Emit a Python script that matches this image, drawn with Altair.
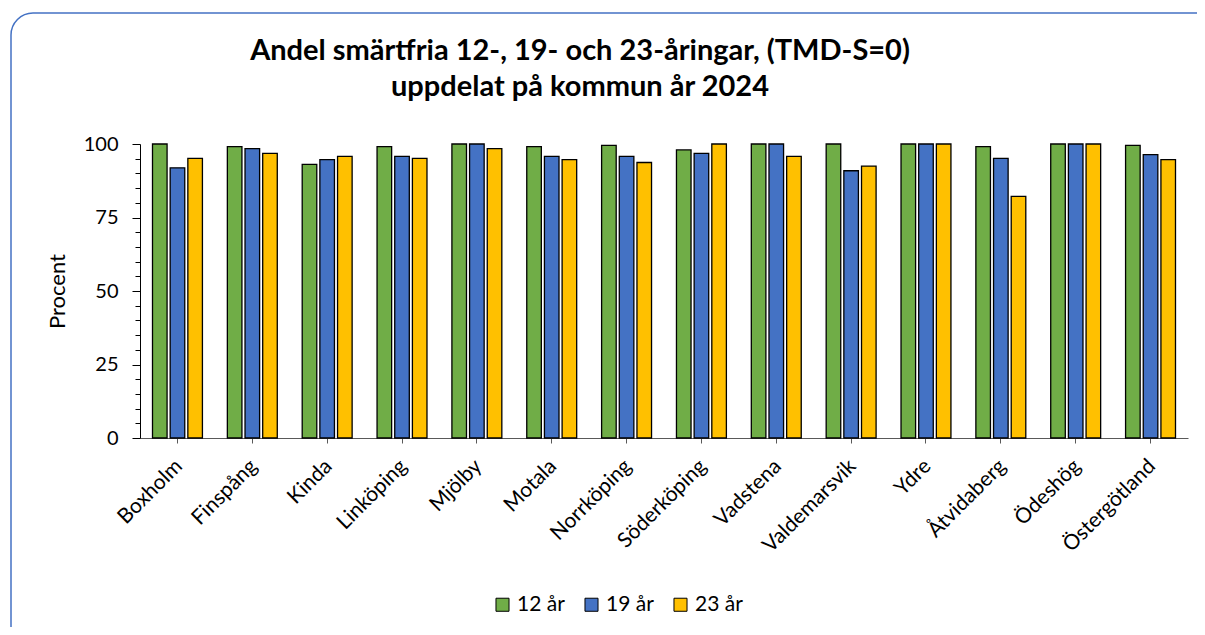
import altair as alt
import pandas as pd

kommuner = ["Boxholm", "Finspång", "Kinda", "Linköping", "Mjölby", "Motala",
            "Norrköping", "Söderköping", "Vadstena", "Valdemarsvik", "Ydre",
            "Åtvidaberg", "Ödeshög", "Östergötland"]
serier = ["12 år", "19 år", "23 år"]
farger = ["#70AD47", "#4472C4", "#FFC000"]
v12 = [100, 99.1, 93.1, 99.1, 100, 99.1, 99.5, 98.0, 100, 100, 100, 99.1, 100, 99.5]
v19 = [91.9, 98.4, 94.7, 95.8, 100, 95.8, 95.8, 96.8, 100, 90.9, 100, 95.1, 100, 96.4]
v23 = [95.1, 96.8, 95.8, 95.1, 98.4, 94.7, 93.7, 100, 95.8, 92.5, 100, 82.2, 100, 94.7]
y_ticks = list(range(0, 101, 5))
titel = ["Andel smärtfria 12-, 19- och 23-åringar, (TMD-S=0)",
         "uppdelat på kommun år 2024"]

rows = []
for serie, vals in zip(serier, [v12, v19, v23]):
    for k, v in zip(kommuner, vals):
        rows.append({"Kommun": k, "Ålder": serie, "Procent": v})
df = pd.DataFrame(rows)

FONT = "Lato"

bars = alt.Chart(df).mark_bar(stroke="black", strokeWidth=1.3).encode(
    x=alt.X("Kommun:N", sort=kommuner,
            scale=alt.Scale(paddingInner=0.333, paddingOuter=0.167),
            axis=alt.Axis(title=None, labelAngle=-45, labelFontSize=21,
                          labelFont=FONT, labelColor="black", tickSize=5,
                          tickColor="#595959", domainColor="#595959",
                          labelPadding=12, labelOffset=-6, grid=False)),
    xOffset=alt.XOffset("Ålder:N", sort=serier,
                        scale=alt.Scale(paddingInner=0.175)),
    y=alt.Y("Procent:Q", scale=alt.Scale(domain=[0, 100], nice=False),
            axis=alt.Axis(title="Procent", values=y_ticks,
                          labelExpr="datum.value % 25 === 0 ? datum.label : ''",
                          tickSize={"condition": {"test": "datum.value % 25 === 0", "value": 8}, "value": 5},
                          labelFontSize=20, labelFont=FONT, labelColor="black",
                          labelPadding=14, labelOverlap=False,
                          titleFont=FONT, titleFontSize=22, titleFontWeight="normal",
                          titleColor="black", titlePadding=14,
                          tickColor="black", domainColor="black", grid=False)),
    color=alt.Color("Ålder:N", sort=serier,
                    scale=alt.Scale(domain=serier, range=farger),
                    legend=alt.Legend(title=None, orient="none", direction="horizontal",
                                      legendX=352, legendY=450,
                                      symbolType="square", symbolSize=170,
                                      symbolStrokeColor="black", symbolStrokeWidth=1,
                                      labelFont=FONT, labelFontSize=21,
                                      labelColor="black", columnPadding=16,
                                      labelOffset=4)),
)

frame = alt.Chart(pd.DataFrame({"a": [0]})).mark_rect(
    fill=None, stroke="#4472C4", strokeWidth=1.5, cornerRadius=22
).encode(
    x=alt.value(-129), x2=alt.value(1080),
    y=alt.value(-131), y2=alt.value(505),
)

chart = alt.layer(frame, bars).properties(
    width=1048, height=294,
    title=alt.TitleParams(text=titel, font=FONT, fontSize=29, fontWeight="bold",
                          color="black", anchor="middle", dx=-84, offset=-90,
                          lineHeight=36),
    autosize=alt.AutoSizeParams(type="none"),
    padding={"left": 132, "top": 136, "right": 9, "bottom": 189},
).configure_view(stroke=None)

chart.save("out.html", embed_options={"renderer": "svg", "actions": False})
